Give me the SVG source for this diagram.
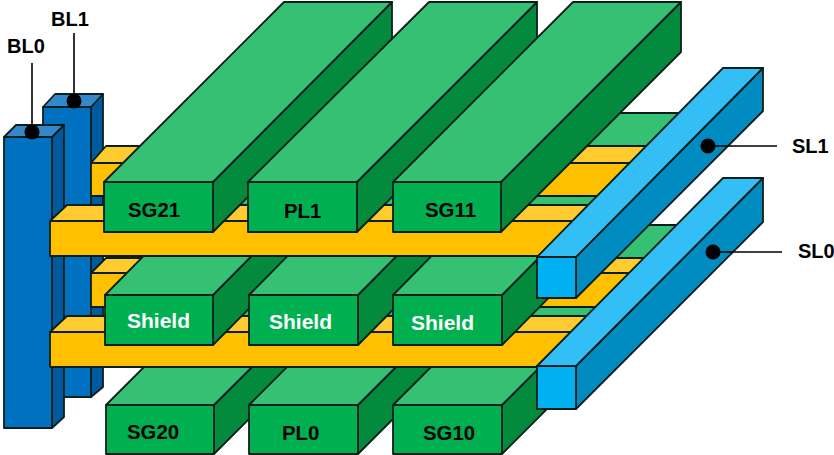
<svg xmlns="http://www.w3.org/2000/svg" width="834" height="455" viewBox="0 0 834 455">
<style>
polygon,rect{stroke:#0a1f1c;stroke-width:1.8;stroke-linejoin:round}
.gf{fill:#00b050}.gt{fill:#35c073}.gs{fill:#038a3c}
.of{fill:#ffc000}.ot{fill:#ffcb2e}
.bf{fill:#0070c0}.bt{fill:#3388cc}.bs{fill:#005a9e}
.sf{fill:#00b0f0}.st{fill:#33bff5}.ss{fill:#008cc0}
text{font-family:"Liberation Sans",Arial,sans-serif;font-weight:700;font-size:20.4px;fill:#000}
.w{fill:#fff;font-size:21px}
.lab{font-size:20px}
.lead{stroke:#000;stroke-width:1.6;fill:none}
</style>
<rect width="834" height="455" fill="#fff" style="stroke:none"/>
<g id="BL1">
<polygon class="bs" points="91,107 103,94 103,387 91,397"/>
<polygon class="bt" points="43,107 55,94 103,94 91,107"/>
<rect class="bf" x="43" y="107" width="48" height="290"/>
</g>
<g id="BL0">
<polygon class="bs" points="52,137 64,125 64,417 52,428"/>
<polygon class="bt" points="4,137 16,125 64,125 52,137"/>
<rect class="bf" x="4" y="137" width="48" height="291"/>
</g>
<g id="SG20">
<polygon class="gs" points="214,405 394,225 394,274 214,454"/>
<polygon class="gt" points="106,405 286,225 394,225 214,405"/>
<rect class="gf" x="106" y="405" width="108" height="49"/>
<text x="127" y="439">SG20</text>
</g>
<g id="PL0">
<polygon class="gs" points="358,405 538,225 538,274 358,454"/>
<polygon class="gt" points="249,405 429,225 538,225 358,405"/>
<rect class="gf" x="249" y="405" width="109" height="49"/>
<text x="282" y="440">PL0</text>
</g>
<g id="SG10">
<polygon class="gs" points="502,405 682,225 682,274 502,454"/>
<polygon class="gt" points="393,405 573,225 682,225 502,405"/>
<rect class="gf" x="393" y="405" width="109" height="49"/>
<text x="423" y="440">SG10</text>
</g>
<g id="WL-lower-back">
<polygon class="ot" points="91,273 106,258 665,258 650,273"/>
<polygon class="of" points="91,273 650,273 650,307 91,307"/>
</g>
<g id="WL-lower-front">
<polygon class="ot" points="50,332 67,316 610,316 593,332"/>
<polygon class="of" points="50,332 593,332 593,367 50,367"/>
</g>
<g id="SL0">
<polygon class="ss" points="576,366 763,178 763,222 576,409"/>
<polygon class="st" points="537,366 723,178 763,178 576,366"/>
<rect class="sf" x="537" y="366" width="39" height="43"/>
</g>
<g id="Shield0">
<polygon class="gs" points="213,295 393,113 393,163 213,345"/>
<polygon class="gt" points="105,295 285,113 393,113 213,295"/>
<rect class="gf" x="105" y="295" width="108" height="50"/>
<text class="w" x="127" y="328">Shield</text>
</g>
<g id="Shield1">
<polygon class="gs" points="358,295 538,113 538,163 358,345"/>
<polygon class="gt" points="249,295 429,113 538,113 358,295"/>
<rect class="gf" x="249" y="295" width="109" height="50"/>
<text class="w" x="269" y="329">Shield</text>
</g>
<g id="Shield2">
<polygon class="gs" points="502,295 682,113 682,163 502,345"/>
<polygon class="gt" points="393,295 573,113 682,113 502,295"/>
<rect class="gf" x="393" y="295" width="109" height="50"/>
<text class="w" x="411" y="330">Shield</text>
</g>
<g id="WL-upper-back">
<polygon class="ot" points="91,163 106,146 665,146 650,163"/>
<polygon class="of" points="91,163 650,163 650,196 91,196"/>
</g>
<g id="WL-upper-front">
<polygon class="ot" points="50,221 67,205 610,205 593,221"/>
<polygon class="of" points="50,221 593,221 593,256 50,256"/>
</g>
<g id="SG21">
<polygon class="gs" points="213,182 392,2 392,52 213,232"/>
<polygon class="gt" points="104,182 284,2 392,2 213,182"/>
<rect class="gf" x="104" y="182" width="109" height="50"/>
<text x="128" y="217">SG21</text>
</g>
<g id="PL1">
<polygon class="gs" points="357,182 537,2 537,52 357,232"/>
<polygon class="gt" points="248,182 429,2 537,2 357,182"/>
<rect class="gf" x="248" y="182" width="109" height="50"/>
<text x="284" y="218">PL1</text>
</g>
<g id="SG11">
<polygon class="gs" points="501,182 681,2 681,52 501,232"/>
<polygon class="gt" points="393,182 573,2 681,2 501,182"/>
<rect class="gf" x="393" y="182" width="108" height="50"/>
<text x="425" y="217">SG11</text>
</g>
<g id="SL1">
<polygon class="ss" points="576,257 763,68 763,111 576,298"/>
<polygon class="st" points="537,257 723,68 763,68 576,257"/>
<rect class="sf" x="537" y="257" width="39" height="41"/>
</g>
<g id="connectors">
<path class="lead" d="M32 63V132M74 33V101M708 146H777M713 252H782"/>
<circle cx="32" cy="132" r="7.5"/>
<circle cx="74" cy="101" r="7.5"/>
<circle cx="708" cy="146" r="7.5"/>
<circle cx="713" cy="252" r="7.5"/>
</g>
<g id="labels">
<text class="lab" x="51" y="26">BL1</text>
<text class="lab" x="7" y="53">BL0</text>
<text class="lab" x="792" y="153">SL1</text>
<text class="lab" x="798" y="258">SL0</text>
</g>
</svg>
